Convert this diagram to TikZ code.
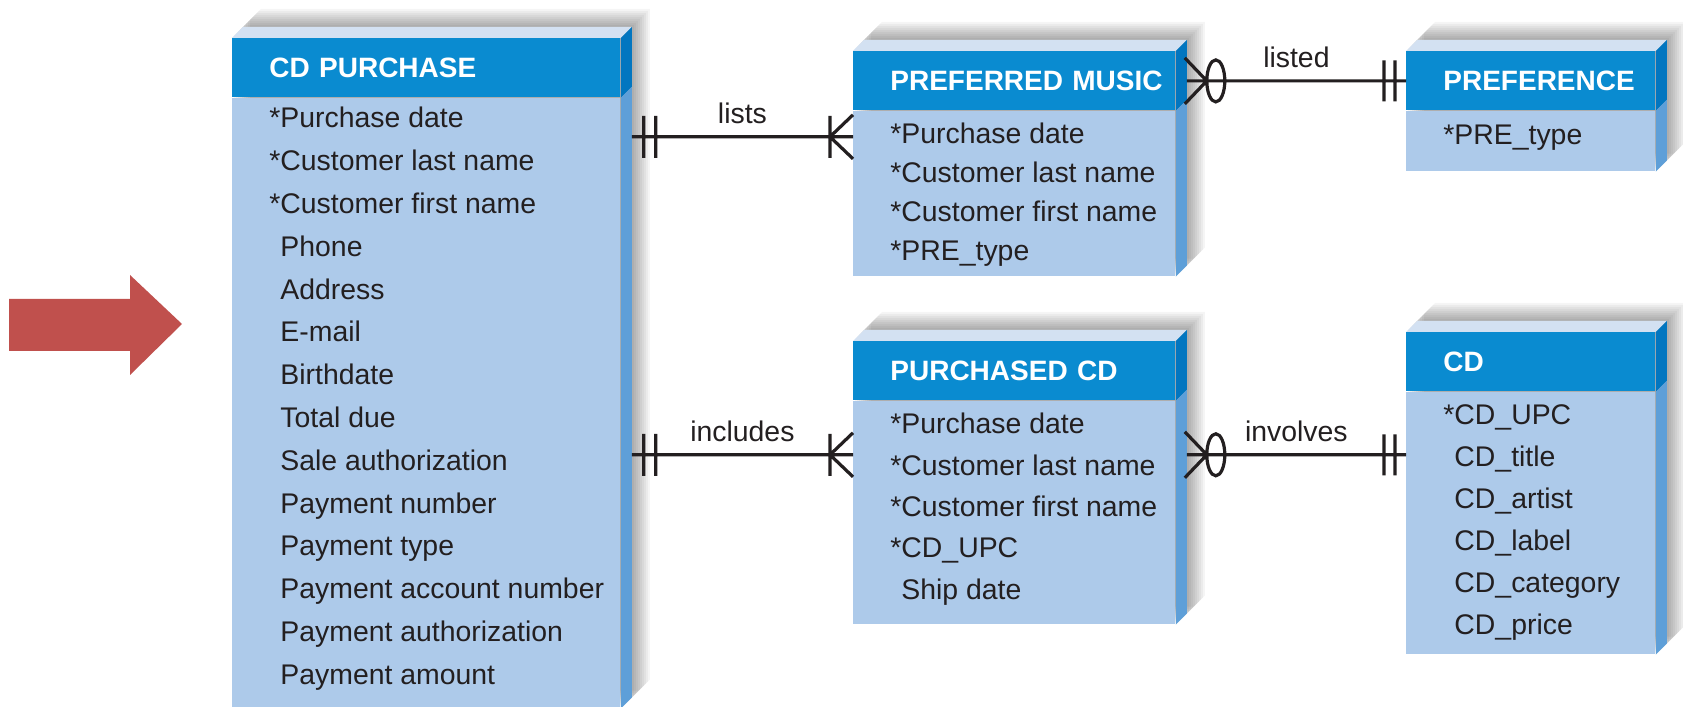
\documentclass[tikz,border=0pt]{standalone}
\usepackage{fontspec}
\setmainfont{Liberation Sans}
\usetikzlibrary{positioning,calc,backgrounds}
\definecolor{erhead}{HTML}{0A8BD0}
\definecolor{erbody}{HTML}{ADCAEA}
\definecolor{ertop}{HTML}{D3E1F2}
\definecolor{erhside}{HTML}{0276C0}
\definecolor{erbside}{HTML}{5E9FD8}
\definecolor{ertext}{HTML}{231F20}
\definecolor{arrowred}{HTML}{C0504D}

\begin{document}
\begin{tikzpicture}[x=0.5pt, y=0.5pt, font=\fontsize{14.2}{17}\selectfont, text=ertext,
  head/.style={fill=erhead, text=white, font=\fontsize{14}{17}\selectfont\bfseries, anchor=north west,
    minimum height=29.5pt, inner sep=0pt, text width=#1, align=left, execute at begin node=\hspace*{18.5pt}},
  attrs/.style={fill=erbody, inner sep=0pt, minimum width=#1},
  attr/.style={anchor=west, inner sep=0pt, text height=10.2pt, text depth=0pt},
  rel/.style={line width=1.6pt, draw=ertext},
  lbl/.style={above=6pt, inner sep=0pt, text height=10.2pt, text depth=0pt}]
\useasboundingbox (0,0) rectangle (1683,707);

% entities
\node[head=194pt] (cdp-h) at (232,669) {CD PURCHASE};
\node[attrs=194pt, minimum height=305pt, below=0pt of cdp-h] (cdp) {};
\node[head=161pt] (pm-h) at (853,656) {PREFERRED MUSIC};
\node[attrs=161pt, minimum height=82.5pt, below=0pt of pm-h] (pm) {};
\node[head=124.5pt] (pref-h) at (1406,656) {PREFERENCE};
\node[attrs=124.5pt, minimum height=30pt, below=0pt of pref-h] (pref) {};
\node[head=161pt] (pcd-h) at (853,366) {PURCHASED CD};
\node[attrs=161pt, minimum height=111.5pt, below=0pt of pcd-h] (pcd) {};
\node[head=124.5pt] (cd-h) at (1406,375) {CD};
\node[attrs=124.5pt, minimum height=131pt, below=0pt of cd-h] (cd) {};

% attributes
\foreach \a [count=\i from 0] in {*Purchase date, *Customer last name, *Customer first name,
    \phantom{*}Phone, \phantom{*}Address, \phantom{*}E-mail, \phantom{*}Birthdate, \phantom{*}Total due,
    \phantom{*}Sale authorization, \phantom{*}Payment number, \phantom{*}Payment type,
    \phantom{*}Payment account number, \phantom{*}Payment authorization, \phantom{*}Payment amount}
  \node[attr] (cdp-\i) at ($(cdp.north west)+(37,-20-\i*42.8)$) {\a};
\foreach \a [count=\i from 0] in {*Purchase date, *Customer last name, *Customer first name, *PRE\_type}
  \node[attr] (pm-\i) at ($(pm.north west)+(37,-23-\i*39)$) {\a};
\node[attr] (pref-0) at ($(pref.north west)+(37,-24)$) {*PRE\_type};
\foreach \a [count=\i from 0] in {*Purchase date, *Customer last name, *Customer first name, *CD\_UPC, \phantom{*}Ship date}
  \node[attr] (pcd-\i) at ($(pcd.north west)+(37,-23-\i*41.3)$) {\a};
\foreach \a [count=\i from 0] in {*CD\_UPC, \phantom{*}CD\_title, \phantom{*}CD\_artist, \phantom{*}CD\_label,
    \phantom{*}CD\_category, \phantom{*}CD\_price}
  \node[attr] (cd-\i) at ($(cd.north west)+(37,-23-\i*42)$) {\a};

% 3d faces
\foreach \e in {cdp,pm,pref,pcd,cd} {
  \fill[ertop] (\e-h.north west) -- ++(11,11) -- ($(\e-h.north east)+(11,11)$) -- (\e-h.north east) -- cycle;
  \fill[erhside] (\e-h.north east) -- ++(11,11) -- ($(\e-h.south east)+(11,11)$) -- (\e-h.south east) -- cycle;
  \fill[erbside] (\e.north east) -- ++(11,11) -- ($(\e.south east)+(11,11)$) -- (\e.south east) -- cycle;
}

% shadows
\begin{scope}[on background layer]
\fill[white] (0,0) rectangle (1683,707);
\foreach \e in {cdp,pm,pref,pcd,cd}
  \foreach \s in {2,4,...,18}
    \fill[black, opacity=.04, transform canvas={shift={(\s*0.5pt,\s*0.5pt)}}] (\e.south west) -- (\e-h.north west)
      -- ++(11,11) -- ($(\e-h.north east)+(11,11)$) -- ($(\e.south east)+(11,11)$) -- (\e.south east) -- cycle;
\end{scope}

% relationships
\coordinate (lists-r) at ([yshift=-13pt]pm.north west);
\coordinate (lists-l) at (cdp.east |- lists-r);
\draw[rel] ([xshift=5.5pt]lists-l) -- node[lbl] (lists) {lists} (lists-r)
  ([xshift=11.5pt]lists-l) ++(0,-21) -- ++(0,42)
  ([xshift=17.5pt]lists-l) ++(0,-21) -- ++(0,42)
  ([xshift=-11.5pt]lists-r) ++(0,-21) -- ++(0,42)
  ([xshift=-11.5pt]lists-r) -- ++(23,22)
  ([xshift=-11.5pt]lists-r) -- ++(23,-22);

\coordinate (incl-r) at ([yshift=-27pt]pcd.north west);
\coordinate (incl-l) at (cdp.east |- incl-r);
\draw[rel] ([xshift=5.5pt]incl-l) -- node[lbl] (includes) {includes} (incl-r)
  ([xshift=11.5pt]incl-l) ++(0,-21) -- ++(0,42)
  ([xshift=17.5pt]incl-l) ++(0,-21) -- ++(0,42)
  ([xshift=-11.5pt]incl-r) ++(0,-21) -- ++(0,42)
  ([xshift=-11.5pt]incl-r) -- ++(23,22)
  ([xshift=-11.5pt]incl-r) -- ++(23,-22);

\coordinate (listed-l) at ([xshift=5.5pt]pm-h.east);
\draw[rel] (listed-l) -- node[lbl] (listed) {listed} (pref-h.west)
  ([xshift=10pt]listed-l) -- ++(-22,23)
  ([xshift=10pt]listed-l) -- ++(-22,-23)
  ([xshift=14.5pt]listed-l) ellipse [x radius=4.5pt, y radius=10.5pt]
  ([xshift=-5.5pt]pref-h.west) ++(0,-20.5) -- ++(0,41)
  ([xshift=-11pt]pref-h.west) ++(0,-20.5) -- ++(0,41);

\coordinate (inv-l) at ([xshift=5.5pt]pcd.east |- incl-r);
\coordinate (inv-r) at (cd.west |- incl-r);
\draw[rel] (inv-l) -- node[lbl] (involves) {involves} (inv-r)
  ([xshift=10pt]inv-l) -- ++(-22,23)
  ([xshift=10pt]inv-l) -- ++(-22,-23)
  ([xshift=14.5pt]inv-l) ellipse [x radius=4.5pt, y radius=10.5pt]
  ([xshift=-5.5pt]inv-r) ++(0,-20.5) -- ++(0,41)
  ([xshift=-11pt]inv-r) ++(0,-20.5) -- ++(0,41);

% red pointer
\fill[arrowred] (9,408) -- (130,408) -- (130,432) -- (182,383) -- (130,332) -- (130,356) -- (9,356) -- cycle;
\end{tikzpicture}
\end{document}
